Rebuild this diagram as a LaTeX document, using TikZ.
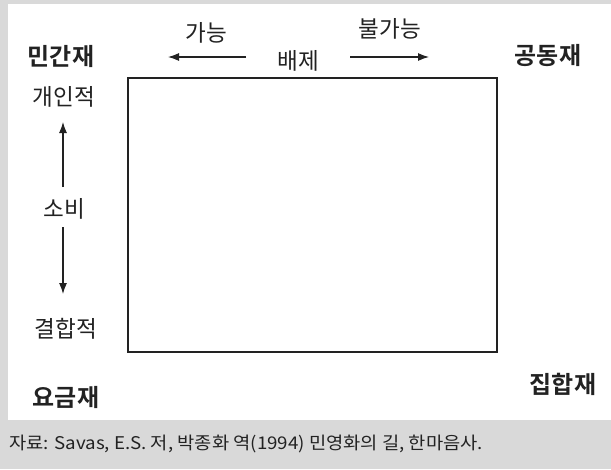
\documentclass[tikz,border=0pt]{standalone}
\usepackage{fontspec}
\usetikzlibrary{arrows.meta}
\setmainfont{Noto Sans CJK KR}[FakeStretch=0.98]
\newfontfamily\krbold{Noto Sans CJK KR Bold}[FakeStretch=1.0]
\newfontfamily\krcap{Noto Sans CJK KR}[FakeStretch=1.07]
\definecolor{bggray}{HTML}{D9D9D9}
\definecolor{ink}{HTML}{222222}
\begin{document}
\begin{tikzpicture}[x=1pt,y=-1pt,
  bigl/.style={font=\krbold\fontsize{24}{24}\selectfont, text=ink, inner sep=0pt},
  lab/.style={font=\fontsize{23}{23}\selectfont, text=ink, inner sep=0pt},
  captext/.style={font=\krcap\fontsize{17.5}{17.5}\selectfont, text=ink, inner sep=0pt, anchor=west},
  arr/.style={draw=ink, line width=1.2pt, -{Latex[length=11pt,width=8pt]}},
  frame/.style={draw=ink, line width=2pt}]
\useasboundingbox (0,0) rectangle (611,469);
\fill[bggray] (0,0) rectangle (611,469);
\fill[white] (8,4) rectangle (611,420);
\draw[frame] (128,78) rectangle (497,352);
\node[bigl] (priv) at (61,56) {민간재};
\node[bigl] (comm) at (548,56) {공동재};
\node[bigl] (toll) at (66,397) {요금재};
\node[bigl] (coll) at (563,384) {집합재};
\node[lab] (poss) at (206,33) {가능};
\node[lab] (imp) at (390,29) {불가능};
\node[lab] (excl) at (298,61) {배제};
\node[lab] (indiv) at (64,97) {개인적};
\node[lab] (cons) at (64,209) {소비};
\node[lab] (join) at (66,329) {결합적};
\coordinate (la) at (246,57);
\coordinate (lb) at (168,57);
\coordinate (ra) at (350,57);
\coordinate (rb) at (429,57);
\coordinate (ua) at (63,187);
\coordinate (ub) at (63,122);
\coordinate (da) at (63,227);
\coordinate (db) at (63,294);
\draw[arr] (la) -- (lb);
\draw[arr] (ra) -- (rb);
\draw[arr] (ua) -- (ub);
\draw[arr] (da) -- (db);
\node[captext] (src) at (9,444) {자료: Savas, E.S. 저, 박종화 역(1994) 민영화의 길, 한마음사.};
\end{tikzpicture}
\end{document}
